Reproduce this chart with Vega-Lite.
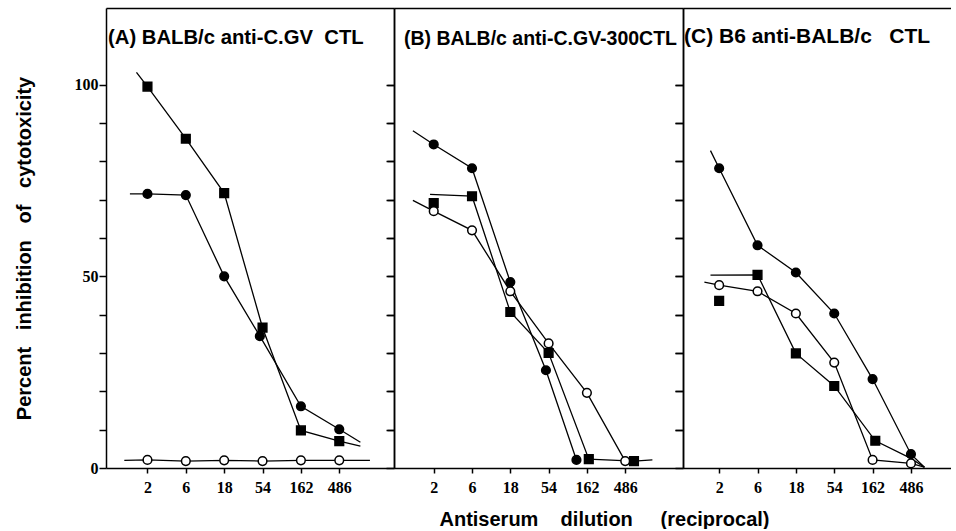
{
  "$schema": "https://vega.github.io/schema/vega-lite/v6.json",
  "padding": {"left": 13, "top": 8, "right": 0, "bottom": 0},
  "bounds": "flush",
  "spacing": 0,
  "config": {
    "font": "Liberation Sans",
    "view": {"stroke": null},
    "axis": {"domainColor": "black", "tickColor": "black", "labelColor": "black", "titleColor": "black", "domainWidth": 1.5, "tickWidth": 1.5, "grid": false}
  },
  "datasets": {
    "d": [
      {"panel": "A", "series": "filled square", "kind": "curve", "dilution": 1.46, "pct": 103.2},
      {"panel": "A", "series": "filled square", "kind": "curve", "dilution": 2, "pct": 99.5},
      {"panel": "A", "series": "filled square", "kind": "curve", "dilution": 6, "pct": 85.9},
      {"panel": "A", "series": "filled square", "kind": "curve", "dilution": 18, "pct": 71.7},
      {"panel": "A", "series": "filled square", "kind": "curve", "dilution": 54, "pct": 36.6},
      {"panel": "A", "series": "filled square", "kind": "curve", "dilution": 162, "pct": 9.8},
      {"panel": "A", "series": "filled square", "kind": "curve", "dilution": 486, "pct": 7.0},
      {"panel": "A", "series": "filled square", "kind": "curve", "dilution": 890, "pct": 5.7},
      {"panel": "A", "series": "filled circle", "kind": "curve", "dilution": 1.21, "pct": 71.5},
      {"panel": "A", "series": "filled circle", "kind": "curve", "dilution": 2, "pct": 71.5},
      {"panel": "A", "series": "filled circle", "kind": "curve", "dilution": 6, "pct": 71.2},
      {"panel": "A", "series": "filled circle", "kind": "curve", "dilution": 18, "pct": 50.0},
      {"panel": "A", "series": "filled circle", "kind": "curve", "dilution": 50, "pct": 34.4},
      {"panel": "A", "series": "filled circle", "kind": "curve", "dilution": 162, "pct": 16.1},
      {"panel": "A", "series": "filled circle", "kind": "curve", "dilution": 486, "pct": 10.1},
      {"panel": "A", "series": "filled circle", "kind": "curve", "dilution": 890, "pct": 6.7},
      {"panel": "A", "series": "open circle", "kind": "curve", "dilution": 1.03, "pct": 2.0},
      {"panel": "A", "series": "open circle", "kind": "curve", "dilution": 2, "pct": 2.1},
      {"panel": "A", "series": "open circle", "kind": "curve", "dilution": 6, "pct": 1.8},
      {"panel": "A", "series": "open circle", "kind": "curve", "dilution": 18, "pct": 2.0},
      {"panel": "A", "series": "open circle", "kind": "curve", "dilution": 54, "pct": 1.8},
      {"panel": "A", "series": "open circle", "kind": "curve", "dilution": 162, "pct": 2.0},
      {"panel": "A", "series": "open circle", "kind": "curve", "dilution": 486, "pct": 2.0},
      {"panel": "A", "series": "open circle", "kind": "curve", "dilution": 1170, "pct": 2.0},
      {"panel": "A", "series": "filled square", "kind": "measured", "dilution": 2, "pct": 99.5},
      {"panel": "A", "series": "filled square", "kind": "measured", "dilution": 6, "pct": 85.9},
      {"panel": "A", "series": "filled square", "kind": "measured", "dilution": 18, "pct": 71.7},
      {"panel": "A", "series": "filled square", "kind": "measured", "dilution": 54, "pct": 36.6},
      {"panel": "A", "series": "filled square", "kind": "measured", "dilution": 162, "pct": 9.8},
      {"panel": "A", "series": "filled square", "kind": "measured", "dilution": 486, "pct": 7.0},
      {"panel": "A", "series": "filled circle", "kind": "measured", "dilution": 2, "pct": 71.5},
      {"panel": "A", "series": "filled circle", "kind": "measured", "dilution": 6, "pct": 71.2},
      {"panel": "A", "series": "filled circle", "kind": "measured", "dilution": 18, "pct": 50.0},
      {"panel": "A", "series": "filled circle", "kind": "measured", "dilution": 50, "pct": 34.4},
      {"panel": "A", "series": "filled circle", "kind": "measured", "dilution": 162, "pct": 16.1},
      {"panel": "A", "series": "filled circle", "kind": "measured", "dilution": 486, "pct": 10.1},
      {"panel": "A", "series": "open circle", "kind": "measured", "dilution": 2, "pct": 2.1},
      {"panel": "A", "series": "open circle", "kind": "measured", "dilution": 6, "pct": 1.8},
      {"panel": "A", "series": "open circle", "kind": "measured", "dilution": 18, "pct": 2.0},
      {"panel": "A", "series": "open circle", "kind": "measured", "dilution": 54, "pct": 1.8},
      {"panel": "A", "series": "open circle", "kind": "measured", "dilution": 162, "pct": 2.0},
      {"panel": "A", "series": "open circle", "kind": "measured", "dilution": 486, "pct": 2.0},

      {"panel": "B", "series": "filled circle", "kind": "curve", "dilution": 1.1, "pct": 88.0},
      {"panel": "B", "series": "filled circle", "kind": "curve", "dilution": 2, "pct": 84.4},
      {"panel": "B", "series": "filled circle", "kind": "curve", "dilution": 6, "pct": 78.2},
      {"panel": "B", "series": "filled circle", "kind": "curve", "dilution": 18, "pct": 48.5},
      {"panel": "B", "series": "filled circle", "kind": "curve", "dilution": 50, "pct": 25.5},
      {"panel": "B", "series": "filled circle", "kind": "curve", "dilution": 120, "pct": 2.1},
      {"panel": "B", "series": "filled square", "kind": "curve", "dilution": 1.8, "pct": 71.4},
      {"panel": "B", "series": "filled square", "kind": "curve", "dilution": 6, "pct": 70.9},
      {"panel": "B", "series": "filled square", "kind": "curve", "dilution": 18, "pct": 40.7},
      {"panel": "B", "series": "filled square", "kind": "curve", "dilution": 54, "pct": 30.0},
      {"panel": "B", "series": "filled square", "kind": "curve", "dilution": 171, "pct": 2.3},
      {"panel": "B", "series": "filled square", "kind": "curve", "dilution": 625, "pct": 1.8},
      {"panel": "B", "series": "filled square", "kind": "curve", "dilution": 1060, "pct": 2.1},
      {"panel": "B", "series": "open circle", "kind": "curve", "dilution": 1.1, "pct": 69.8},
      {"panel": "B", "series": "open circle", "kind": "curve", "dilution": 2, "pct": 67.0},
      {"panel": "B", "series": "open circle", "kind": "curve", "dilution": 6, "pct": 62.0},
      {"panel": "B", "series": "open circle", "kind": "curve", "dilution": 18, "pct": 46.1},
      {"panel": "B", "series": "open circle", "kind": "curve", "dilution": 54, "pct": 32.5},
      {"panel": "B", "series": "open circle", "kind": "curve", "dilution": 162, "pct": 19.6},
      {"panel": "B", "series": "open circle", "kind": "curve", "dilution": 486, "pct": 1.8},
      {"panel": "B", "series": "filled circle", "kind": "measured", "dilution": 2, "pct": 84.4},
      {"panel": "B", "series": "filled circle", "kind": "measured", "dilution": 6, "pct": 78.2},
      {"panel": "B", "series": "filled circle", "kind": "measured", "dilution": 18, "pct": 48.5},
      {"panel": "B", "series": "filled circle", "kind": "measured", "dilution": 50, "pct": 25.5},
      {"panel": "B", "series": "filled circle", "kind": "measured", "dilution": 120, "pct": 2.1},
      {"panel": "B", "series": "filled square", "kind": "measured", "dilution": 2, "pct": 69.1},
      {"panel": "B", "series": "filled square", "kind": "measured", "dilution": 6, "pct": 70.9},
      {"panel": "B", "series": "filled square", "kind": "measured", "dilution": 18, "pct": 40.7},
      {"panel": "B", "series": "filled square", "kind": "measured", "dilution": 54, "pct": 30.0},
      {"panel": "B", "series": "filled square", "kind": "measured", "dilution": 171, "pct": 2.3},
      {"panel": "B", "series": "filled square", "kind": "measured", "dilution": 625, "pct": 1.8},
      {"panel": "B", "series": "open circle", "kind": "measured", "dilution": 2, "pct": 67.0},
      {"panel": "B", "series": "open circle", "kind": "measured", "dilution": 6, "pct": 62.0},
      {"panel": "B", "series": "open circle", "kind": "measured", "dilution": 18, "pct": 46.1},
      {"panel": "B", "series": "open circle", "kind": "measured", "dilution": 54, "pct": 32.5},
      {"panel": "B", "series": "open circle", "kind": "measured", "dilution": 162, "pct": 19.6},
      {"panel": "B", "series": "open circle", "kind": "measured", "dilution": 486, "pct": 1.8},

      {"panel": "C", "series": "filled circle", "kind": "curve", "dilution": 1.56, "pct": 82.8},
      {"panel": "C", "series": "filled circle", "kind": "curve", "dilution": 2, "pct": 78.2},
      {"panel": "C", "series": "filled circle", "kind": "curve", "dilution": 6, "pct": 58.1},
      {"panel": "C", "series": "filled circle", "kind": "curve", "dilution": 18, "pct": 51.0},
      {"panel": "C", "series": "filled circle", "kind": "curve", "dilution": 54, "pct": 40.3},
      {"panel": "C", "series": "filled circle", "kind": "curve", "dilution": 162, "pct": 23.2},
      {"panel": "C", "series": "filled circle", "kind": "curve", "dilution": 486, "pct": 3.6},
      {"panel": "C", "series": "filled circle", "kind": "curve", "dilution": 715, "pct": 0.2},
      {"panel": "C", "series": "filled square", "kind": "curve", "dilution": 1.56, "pct": 50.3},
      {"panel": "C", "series": "filled square", "kind": "curve", "dilution": 6, "pct": 50.4},
      {"panel": "C", "series": "filled square", "kind": "curve", "dilution": 18, "pct": 29.9},
      {"panel": "C", "series": "filled square", "kind": "curve", "dilution": 54, "pct": 21.4},
      {"panel": "C", "series": "filled square", "kind": "curve", "dilution": 175, "pct": 7.1},
      {"panel": "C", "series": "filled square", "kind": "curve", "dilution": 486, "pct": 2.5},
      {"panel": "C", "series": "filled square", "kind": "curve", "dilution": 715, "pct": 0.2},
      {"panel": "C", "series": "open circle", "kind": "curve", "dilution": 1.31, "pct": 48.5},
      {"panel": "C", "series": "open circle", "kind": "curve", "dilution": 2, "pct": 47.7},
      {"panel": "C", "series": "open circle", "kind": "curve", "dilution": 6, "pct": 46.1},
      {"panel": "C", "series": "open circle", "kind": "curve", "dilution": 18, "pct": 40.3},
      {"panel": "C", "series": "open circle", "kind": "curve", "dilution": 54, "pct": 27.5},
      {"panel": "C", "series": "open circle", "kind": "curve", "dilution": 162, "pct": 2.1},
      {"panel": "C", "series": "open circle", "kind": "curve", "dilution": 486, "pct": 1.2},
      {"panel": "C", "series": "open circle", "kind": "curve", "dilution": 715, "pct": 0.2},
      {"panel": "C", "series": "filled circle", "kind": "measured", "dilution": 2, "pct": 78.2},
      {"panel": "C", "series": "filled circle", "kind": "measured", "dilution": 6, "pct": 58.1},
      {"panel": "C", "series": "filled circle", "kind": "measured", "dilution": 18, "pct": 51.0},
      {"panel": "C", "series": "filled circle", "kind": "measured", "dilution": 54, "pct": 40.3},
      {"panel": "C", "series": "filled circle", "kind": "measured", "dilution": 162, "pct": 23.2},
      {"panel": "C", "series": "filled circle", "kind": "measured", "dilution": 486, "pct": 3.6},
      {"panel": "C", "series": "filled square", "kind": "measured", "dilution": 2, "pct": 43.6},
      {"panel": "C", "series": "filled square", "kind": "measured", "dilution": 6, "pct": 50.4},
      {"panel": "C", "series": "filled square", "kind": "measured", "dilution": 18, "pct": 29.9},
      {"panel": "C", "series": "filled square", "kind": "measured", "dilution": 54, "pct": 21.4},
      {"panel": "C", "series": "filled square", "kind": "measured", "dilution": 175, "pct": 7.1},
      {"panel": "C", "series": "open circle", "kind": "measured", "dilution": 2, "pct": 47.7},
      {"panel": "C", "series": "open circle", "kind": "measured", "dilution": 6, "pct": 46.1},
      {"panel": "C", "series": "open circle", "kind": "measured", "dilution": 18, "pct": 40.3},
      {"panel": "C", "series": "open circle", "kind": "measured", "dilution": 54, "pct": 27.5},
      {"panel": "C", "series": "open circle", "kind": "measured", "dilution": 162, "pct": 2.1},
      {"panel": "C", "series": "open circle", "kind": "measured", "dilution": 486, "pct": 1.2}
    ]
  },
  "hconcat": [
    {
      "width": 288, "height": 460,
      "data": {"name": "d"},
      "transform": [{"filter": "datum.panel === 'A'"}],
      "title": {"text": "(A) BALB/c anti-C.GV\u00a0\u00a0CTL", "anchor": "start", "frame": "group", "offset": -50, "baseline": "middle", "dx": 2, "fontSize": 20.3, "fontWeight": "bold", "color": "black"},
      "resolve": {"axis": {"x": "independent", "y": "independent"}},
      "layer": [
        {
          "transform": [{"filter": "datum.kind === 'curve'"}],
          "mark": {"type": "line", "color": "black", "strokeWidth": 1.3},
          "encoding": {
            "x": {"field": "dilution", "type": "quantitative", "scale": {"type": "log", "domain": [0.61, 2330], "nice": false},
                  "axis": {"orient": "bottom", "values": [2, 6, 18, 54, 162, 486], "labelExpr": "format(datum.value, 'd')", "tickSize": 5, "labelPadding": 6, "labelFontSize": 16, "labelFontWeight": "bold", "labelFont": "Liberation Sans Narrow", "title": null}},
            "y": {"field": "pct", "type": "quantitative", "scale": {"domain": [0, 120], "nice": false},
                  "axis": {"orient": "left", "values": [0, 10, 20, 30, 40, 50, 60, 70, 80, 90, 100], "labelExpr": "datum.value % 50 === 0 ? format(datum.value, 'd') : ''", "tickSize": 7, "labelPadding": 1, "labelFontSize": 16, "labelFontWeight": "bold", "labelFont": "Liberation Sans Narrow",
                           "title": "Percent\u00a0\u00a0\u00a0inhibition\u00a0\u00a0\u00a0of\u00a0\u00a0\u00a0cytotoxicity", "titleX": -82, "titleY": 240, "titleBaseline": "middle", "titleFontSize": 20, "titleFontWeight": "bold"}},
            "detail": {"field": "series"}
          }
        },
        {
          "transform": [{"filter": "datum.kind === 'measured'"}],
          "mark": {"type": "point", "stroke": "black", "strokeWidth": 1.5, "size": 75, "opacity": 1},
          "encoding": {
            "x": {"field": "dilution", "type": "quantitative", "axis": {"orient": "top", "ticks": false, "labels": false, "title": null}},
            "y": {"field": "pct", "type": "quantitative", "axis": {"orient": "right", "values": [10, 20, 30, 40, 50, 60, 70, 80, 90, 100], "tickSize": -7, "labels": false, "title": null}},
            "shape": {"field": "series", "type": "nominal", "scale": {"domain": ["filled circle", "filled square", "open circle"], "range": ["circle", "square", "circle"]}, "legend": null},
            "fill": {"field": "series", "type": "nominal", "scale": {"domain": ["filled circle", "filled square", "open circle"], "range": ["black", "black", "white"]}, "legend": null}
          }
        }
      ]
    },
    {
      "width": 289, "height": 460,
      "data": {"name": "d"},
      "transform": [{"filter": "datum.panel === 'B'"}],
      "title": {"text": "(B) BALB/c anti-C.GV-300CTL", "anchor": "start", "frame": "group", "offset": -50, "baseline": "middle", "dx": 10, "fontSize": 19.5, "fontWeight": "bold", "color": "black"},
      "resolve": {"axis": {"x": "independent", "y": "independent"}},
      "layer": [
        {
          "transform": [{"filter": "datum.kind === 'curve'"}],
          "mark": {"type": "line", "color": "black", "strokeWidth": 1.3},
          "encoding": {
            "x": {"field": "dilution", "type": "quantitative", "scale": {"type": "log", "domain": [0.64, 2550], "nice": false},
                  "axis": {"orient": "bottom", "values": [2, 6, 18, 54, 162, 486], "labelExpr": "format(datum.value, 'd')", "tickSize": 5, "labelPadding": 6, "labelFontSize": 16, "labelFontWeight": "bold", "labelFont": "Liberation Sans Narrow",
                           "title": "Antiserum\u00a0\u00a0\u00a0\u00a0dilution\u00a0\u00a0\u00a0\u00a0\u00a0(reciprocal)", "titleX": 210, "titleY": 51, "titleBaseline": "middle", "titleAlign": "center", "titleFontSize": 20, "titleFontWeight": "bold"}},
            "y": {"field": "pct", "type": "quantitative", "scale": {"domain": [0, 120], "nice": false},
                  "axis": {"orient": "left", "values": [0, 10, 20, 30, 40, 50, 60, 70, 80, 90, 100], "tickSize": 8, "labels": false, "title": null}},
            "detail": {"field": "series"}
          }
        },
        {
          "transform": [{"filter": "datum.kind === 'measured'"}],
          "mark": {"type": "point", "stroke": "black", "strokeWidth": 1.5, "size": 75, "opacity": 1},
          "encoding": {
            "x": {"field": "dilution", "type": "quantitative", "axis": {"orient": "top", "ticks": false, "labels": false, "title": null}},
            "y": {"field": "pct", "type": "quantitative", "axis": {"orient": "right", "values": [10, 20, 30, 40, 50, 60, 70, 80, 90, 100], "tickSize": -8, "labels": false, "title": null}},
            "shape": {"field": "series", "type": "nominal", "scale": {"domain": ["filled circle", "filled square", "open circle"], "range": ["circle", "square", "circle"]}, "legend": null},
            "fill": {"field": "series", "type": "nominal", "scale": {"domain": ["filled circle", "filled square", "open circle"], "range": ["black", "black", "white"]}, "legend": null}
          }
        }
      ]
    },
    {
      "width": 268, "height": 460,
      "data": {"name": "d"},
      "transform": [{"filter": "datum.panel === 'C'"}],
      "title": {"text": "(C) B6 anti-BALB/c\u00a0\u00a0\u00a0CTL", "anchor": "start", "frame": "group", "offset": -50, "baseline": "middle", "dx": 1, "fontSize": 21, "fontWeight": "bold", "color": "black"},
      "resolve": {"axis": {"x": "independent", "y": "independent"}},
      "layer": [
        {
          "transform": [{"filter": "datum.kind === 'curve'"}],
          "mark": {"type": "line", "color": "black", "strokeWidth": 1.3},
          "encoding": {
            "x": {"field": "dilution", "type": "quantitative", "scale": {"type": "log", "domain": [0.71, 1530], "nice": false},
                  "axis": {"orient": "bottom", "values": [2, 6, 18, 54, 162, 486], "labelExpr": "format(datum.value, 'd')", "tickSize": 5, "labelPadding": 6, "labelFontSize": 16, "labelFontWeight": "bold", "labelFont": "Liberation Sans Narrow", "title": null}},
            "y": {"field": "pct", "type": "quantitative", "scale": {"domain": [0, 120], "nice": false},
                  "axis": {"orient": "left", "values": [0, 10, 20, 30, 40, 50, 60, 70, 80, 90, 100], "tickSize": 8, "labels": false, "title": null}},
            "detail": {"field": "series"}
          }
        },
        {
          "transform": [{"filter": "datum.kind === 'measured'"}],
          "mark": {"type": "point", "stroke": "black", "strokeWidth": 1.5, "size": 75, "opacity": 1},
          "encoding": {
            "x": {"field": "dilution", "type": "quantitative", "axis": {"orient": "top", "ticks": false, "labels": false, "title": null}},
            "y": {"field": "pct", "type": "quantitative", "axis": null},
            "shape": {"field": "series", "type": "nominal", "scale": {"domain": ["filled circle", "filled square", "open circle"], "range": ["circle", "square", "circle"]}, "legend": null},
            "fill": {"field": "series", "type": "nominal", "scale": {"domain": ["filled circle", "filled square", "open circle"], "range": ["black", "black", "white"]}, "legend": null}
          }
        }
      ]
    }
  ]
}
